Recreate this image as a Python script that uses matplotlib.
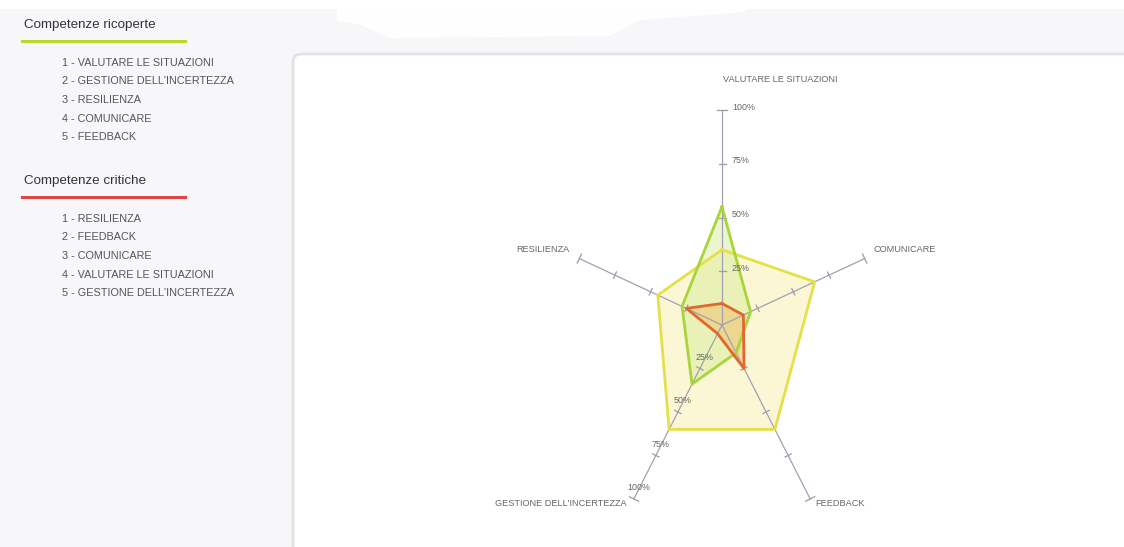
import numpy as np
import matplotlib.pyplot as plt
from matplotlib.patches import FancyBboxPatch, Rectangle, Polygon
from matplotlib.lines import Line2D

# assi del radar, in senso orario partendo dall'alto
categorie = ["VALUTARE LE SITUAZIONI", "COMUNICARE", "FEEDBACK",
             "GESTIONE DELL'INCERTEZZA", "RESILIENZA"]
atteso = [35, 65, 60, 60, 45]       # poligono giallo
ricoperte = [55, 20, 16, 34, 28]    # poligono verde
critiche = [10, 15, 25, 5, 25]      # poligono rosso
tacche = [25, 50, 75, 100]
etichette_tacche = ["25%", "50%", "75%", "100%"]

lista_ricoperte = ["1 - VALUTARE LE SITUAZIONI", "2 - GESTIONE DELL'INCERTEZZA",
                   "3 - RESILIENZA", "4 - COMUNICARE", "5 - FEEDBACK"]
lista_critiche = ["1 - RESILIENZA", "2 - FEEDBACK", "3 - COMUNICARE",
                  "4 - VALUTARE LE SITUAZIONI", "5 - GESTIONE DELL'INCERTEZZA"]

W, H = 1124, 547
FONT = ['Liberation Sans', 'DejaVu Sans']


def px(x, y):
    # pixel dall'alto a sinistra -> frazione della figura
    return x / W, 1 - y / H


fig = plt.figure(figsize=(W / 100, H / 100), dpi=100, facecolor='#f7f7fa')

# fascia bianca in alto e macchia bianca
fig.add_artist(Rectangle((0, 1 - 9 / H), 1, 9 / H, transform=fig.transFigure,
                         fc='white', ec='none', zorder=-2))
sbavatura = [(337, 0), (750, 0), (745, 12), (640, 20), (610, 36), (390, 38), (360, 25), (337, 20)]
fig.add_artist(Polygon([px(x, y) for x, y in sbavatura], closed=True, transform=fig.transFigure,
                       fc='white', ec='none', alpha=0.9, zorder=-2))

# pannello bianco del grafico
fig.add_artist(FancyBboxPatch((2.93, -0.5), 9.0, (H - 54) / 100 + 0.5,
                              boxstyle='round,pad=0,rounding_size=0.08',
                              transform=fig.dpi_scale_trans,
                              fc='white', ec='#e2e2e6', lw=2, zorder=-1))

# colonna di sinistra
def blocco(titolo, voci, y_titolo, colore):
    fig.text(*px(24, y_titolo), titolo, fontsize=9.6, color='#333333',
             va='center', family=FONT)
    fig.add_artist(Line2D([22 / W, 185 / W], [1 - (y_titolo + 16) / H] * 2,
                          color=colore, lw=2.2, transform=fig.transFigure))
    for i, v in enumerate(voci):
        fig.text(*px(62, y_titolo + 38 + i * 18.5), v, fontsize=7.8, color='#555555',
                 va='center', family=FONT)


blocco("Competenze ricoperte", lista_ricoperte, 25, '#b8d82c')
blocco("Competenze critiche", lista_critiche, 181, '#e04444')

# radar: 100% = 150 px in orizzontale, 215 px in verticale
SX, SY, L = 150, 215, 1.3
cx, cy = 722, 325
ax = fig.add_axes([(cx - L * SX) / W, (H - cy - L * SY) / H, 2 * L * SX / W, 2 * L * SY / H])
ax.set_zorder(5)
ax.set_xlim(-L, L)
ax.set_ylim(-L, L)
ax.axis('off')
ax.patch.set_alpha(0)

n = len(categorie)
theta = np.pi / 2 - 2 * np.pi * np.arange(n) / n


def punti(valori):
    r = np.array(valori + valori[:1]) / 100
    t = np.append(theta, theta[0])
    return r * np.cos(t), r * np.sin(t)


serie = [(atteso, '#e6e048', '#f5ec90', 0.38),
         (ricoperte, '#a8d43c', '#d4ea94', 0.45),
         (critiche, '#e2672e', '#f2b85c', 0.45)]

for valori, linea, riemp, a in serie:
    x, y = punti(valori)
    ax.fill(x, y, color=riemp, alpha=a, lw=0, zorder=1)

for i, t in enumerate(theta):
    c, s = np.cos(t), np.sin(t)
    ax.plot([0, c], [0, s], color='#a2a0b2', lw=0.9, zorder=2, clip_on=False)
    d = np.array([c * SX, s * SY])
    d = d / np.linalg.norm(d)
    for v in tacche:
        meta = 5 if v == 100 else 3.5
        ox, oy = -d[1] * meta / SX, d[0] * meta / SY
        r = v / 100
        ax.plot([r * c - ox, r * c + ox], [r * s - oy, r * s + oy],
                color='#9c9aac', lw=0.9, zorder=2, clip_on=False)

for valori, linea, riemp, a in serie:
    x, y = punti(valori)
    ax.plot(x, y, color=linea, lw=2.0, zorder=3, solid_joinstyle='round')

# etichette percentuali sull'asse in alto e su quello in basso a sinistra
for v, lab in zip(tacche, etichette_tacche):
    r = v / 100
    ax.annotate(lab, (r * np.cos(theta[0]), r * np.sin(theta[0])), xytext=(10, 3),
                textcoords='offset pixels', ha='left', va='center',
                fontsize=6.4, color='#666666', family=FONT, zorder=4)
    ax.annotate(lab, (r * np.cos(theta[3]), r * np.sin(theta[3])), xytext=(5, 11),
                textcoords='offset pixels', ha='center', va='center',
                fontsize=6.4, color='#666666', family=FONT, zorder=4)

# nomi degli assi
pos_etichette = [(1, 30, 'left'), (9, 9, 'left'), (5, -5, 'left'),
                 (-7, -5, 'right'), (-10, 9, 'right')]
for i, nome in enumerate(categorie):
    dx, dy, ha = pos_etichette[i]
    ax.annotate(nome, (np.cos(theta[i]), np.sin(theta[i])), xytext=(dx, dy),
                textcoords='offset pixels', ha=ha, va='center',
                fontsize=6.6, color='#666666', family=FONT, zorder=4)

fig.savefig('out.png', dpi=100, facecolor=fig.get_facecolor())
